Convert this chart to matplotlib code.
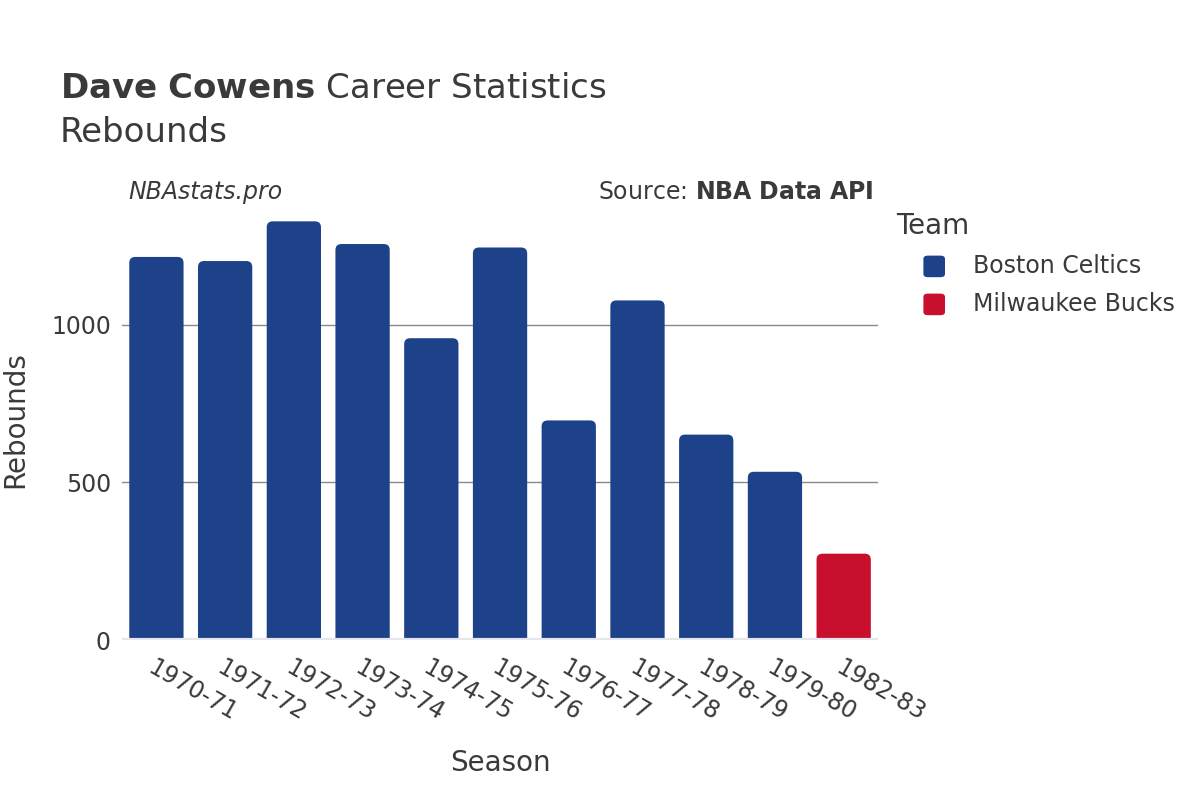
import matplotlib
matplotlib.use("Agg")
import matplotlib.pyplot as plt
from matplotlib.patches import FancyBboxPatch, PathPatch
from matplotlib.path import Path

seasons = ["1970-71", "1971-72", "1972-73", "1973-74", "1974-75", "1975-76",
           "1976-77", "1977-78", "1978-79", "1979-80", "1982-83"]
rebounds = [1216, 1203, 1329, 1257, 958, 1246, 697, 1078, 652, 534, 274]
teams = ["Boston Celtics"] * 10 + ["Milwaukee Bucks"]
team_colors = {"Boston Celtics": "#1d428a", "Milwaukee Bucks": "#c8102e"}
yticks = [0, 500, 1000]

txt = "#3a3a3a"
fig = plt.figure(figsize=(12, 8), dpi=100)
ax = fig.add_axes([0.1017, 0.2, 0.63, 0.5375])

x = list(range(len(seasons)))
colors = [team_colors[t] for t in teams]
bars = ax.bar(x, rebounds, width=0.79, color=colors)

ax.set_xlim(-0.5, len(seasons) - 0.5)
ax.set_ylim(0, 1365)

# rounded top corners, square bottom
rx = 6 * len(seasons) / 756.0
ry = 6 * 1365 / 430.0
for b, c in zip(bars, colors):
    b.set_visible(False)
    x0, w, h = b.get_x(), b.get_width(), b.get_height()
    x1 = x0 + w
    verts = [(x0, 0), (x0, h - ry), (x0, h), (x0 + rx, h), (x1 - rx, h),
             (x1, h), (x1, h - ry), (x1, 0), (x0, 0)]
    codes = [Path.MOVETO, Path.LINETO, Path.CURVE3, Path.CURVE3, Path.LINETO,
             Path.CURVE3, Path.CURVE3, Path.LINETO, Path.CLOSEPOLY]
    ax.add_patch(PathPatch(Path(verts, codes), fc=c, ec="none", zorder=2))

for s in ax.spines.values():
    s.set_visible(False)
for v in yticks[1:]:
    ax.axhline(v, color="#8a8a8a", lw=1, zorder=1)
ax.axhline(0, color="#e6e6ee", lw=3, zorder=3)

ax.set_yticks(yticks)
ax.set_yticklabels([str(v) for v in yticks], fontsize=17, color=txt)
ax.set_xticks(x)
ax.set_xticklabels(seasons, rotation=-30, ha="left", va="top",
                   rotation_mode="anchor", fontsize=17, color=txt)
ax.tick_params(axis="both", length=0)
ax.tick_params(axis="x", pad=11)
ax.tick_params(axis="y", pad=8)

ax.set_xlabel("Season", fontsize=20, color=txt, labelpad=17)
fig.text(0.0125, 0.475, "Rebounds", fontsize=20, color=txt, rotation=90,
         va="center", ha="center")

fig.text(0.05, 0.889, r"$\bf{Dave\ Cowens}$ Career Statistics", fontsize=24.5,
         color=txt, va="center")
fig.text(0.05, 0.835, "Rebounds", fontsize=24.5, color=txt, va="center")
fig.text(0.107, 0.76, "NBAstats.pro", fontsize=17, style="italic", color=txt,
         va="center")
fig.text(0.728, 0.76, r"Source: $\bf{NBA\ Data\ API}$", fontsize=17, color=txt,
         va="center", ha="right")

# legend
fig.text(0.747, 0.717, "Team", fontsize=20, color=txt, va="center")
for i, t in enumerate(["Boston Celtics", "Milwaukee Bucks"]):
    yc = 0.667 - i * 0.0475
    fig.patches.append(FancyBboxPatch((0.7695, yc - 0.0135), 0.018, 0.027,
                                      boxstyle="round,pad=0,rounding_size=0.004",
                                      transform=fig.transFigure,
                                      fc=team_colors[t], ec="none"))
    fig.text(0.811, yc, t, fontsize=17, color=txt, va="center")

fig.savefig("out.png", dpi=100)
